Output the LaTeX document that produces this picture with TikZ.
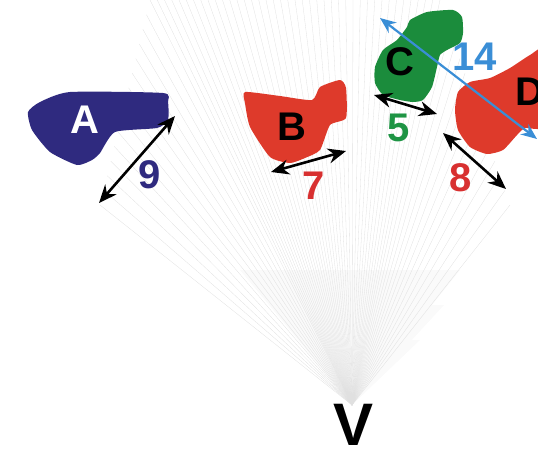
\documentclass[tikz,border=0pt]{standalone}
\usepackage{fontspec}
\setmainfont{Liberation Sans}
\usetikzlibrary{calc,arrows.meta}
\definecolor{cA}{HTML}{2F2A7F}
\definecolor{cR}{HTML}{DE3A2B}
\definecolor{cG}{HTML}{1B8C3C}
\definecolor{cB}{HTML}{3A8ED6}
\definecolor{cN}{HTML}{D83030}
\definecolor{cNG}{HTML}{1E9444}
\begin{document}
\begin{tikzpicture}[x=1pt,y=-1pt,
  lab/.style={font=\bfseries\fontsize{40}{40}\selectfont, inner sep=0pt},
  dimarrow/.style={line width=2.6pt, {Stealth[length=18pt,width=15pt]}-{Stealth[length=18pt,width=15pt]}},
  bluearrow/.style={cB, line width=2.2pt, {Stealth[length=16pt,width=13pt]}-{Stealth[length=16pt,width=13pt]}},
  ray/.style={black!12, line width=0.3pt},
  blob/.style={smooth cycle, tension=0.35}]
\useasboundingbox (0,0) rectangle (538,448);
\clip (0,0) rectangle (538,448);
% fan of rays from the viewpoint
\coordinate (v) at (352,405);
\coordinate (p1) at (100,205);
\coordinate (p2) at (150,0);
\coordinate (p3) at (440,0);
\coordinate (p4) at (510,205);
\fill[black!2] (v) -- (240,270) -- (460,270) -- cycle;
\fill[black!2] (v) -- (272,305) -- (444,305) -- cycle;
\fill[black!2] (v) -- (300,340) -- (420,340) -- cycle;
\foreach \i in {0,...,14} \draw[ray] (v) -- ($(p1)!\i/14!(p2)$);
\foreach \i in {1,...,40} \draw[ray] (v) -- ($(p2)!\i/40!(p3)$);
\foreach \i in {1,...,14} \draw[ray] (v) -- ($(p3)!\i/14!(p4)$);
% shapes
\fill[cA] plot[blob] coordinates {(28,112) (40,102) (70,92) (163,93) (168,102) (168,120) (157,128) (115,132) (100,153) (92,160) (77,165) (50,152) (32,130)};
\fill[cR] plot[blob] coordinates {(245,92) (280,96) (312,100) (320,87) (340,80) (346,88) (346,118) (330,125) (320,150) (305,158) (290,163) (270,157) (250,127) (245,103)};
\fill[cG] plot[blob] coordinates {(410,20) (427,12) (453,10) (462,17) (463,33) (460,43) (447,50) (440,55) (437,67) (432,87) (423,100) (413,102) (400,100) (383,95) (375,83) (375,67) (383,50) (397,40) (407,27)};
\fill[cR] plot[blob] coordinates {(458,92) (470,82) (490,78) (510,68) (530,55) (545,50) (545,125) (525,128) (517,135) (503,150) (487,154) (470,147) (458,130) (455,110)};
% letters
\node[lab, white] (A) at (85,120) {A};
\node[lab, black] (B) at (292,127) {B};
\node[lab, black] (C) at (400,62) {C};
\node[lab, black] (D) at (530,92) {D};
\node[font=\bfseries\fontsize{60}{60}\selectfont, inner sep=0pt, anchor=base] (V) at (354,445) {V};
% dimension arrows
\coordinate (a9s) at (175,116); \coordinate (a9e) at (99,203);
\coordinate (a7s) at (271,172); \coordinate (a7e) at (346,151);
\coordinate (a5s) at (374,95);  \coordinate (a5e) at (437,114);
\coordinate (a8s) at (443,133); \coordinate (a8e) at (506,189);
\coordinate (a14s) at (380,18); \coordinate (a14e) at (537,139);
\draw[dimarrow] (a9s) -- (a9e);
\draw[dimarrow] (a7s) -- (a7e);
\draw[dimarrow] (a5s) -- (a5e);
\draw[dimarrow] (a8s) -- (a8e);
\draw[bluearrow] (a14s) -- (a14e);
% numbers
\node[lab, cA] (n9) at (150,175) {9};
\node[lab, cN] (n7) at (314,186) {7};
\node[lab, cNG] (n5) at (399,128) {5};
\node[lab, cN] (n8) at (461,178) {8};
\node[lab, cB] (n14) at (475,57) {14};
\end{tikzpicture}
\end{document}
